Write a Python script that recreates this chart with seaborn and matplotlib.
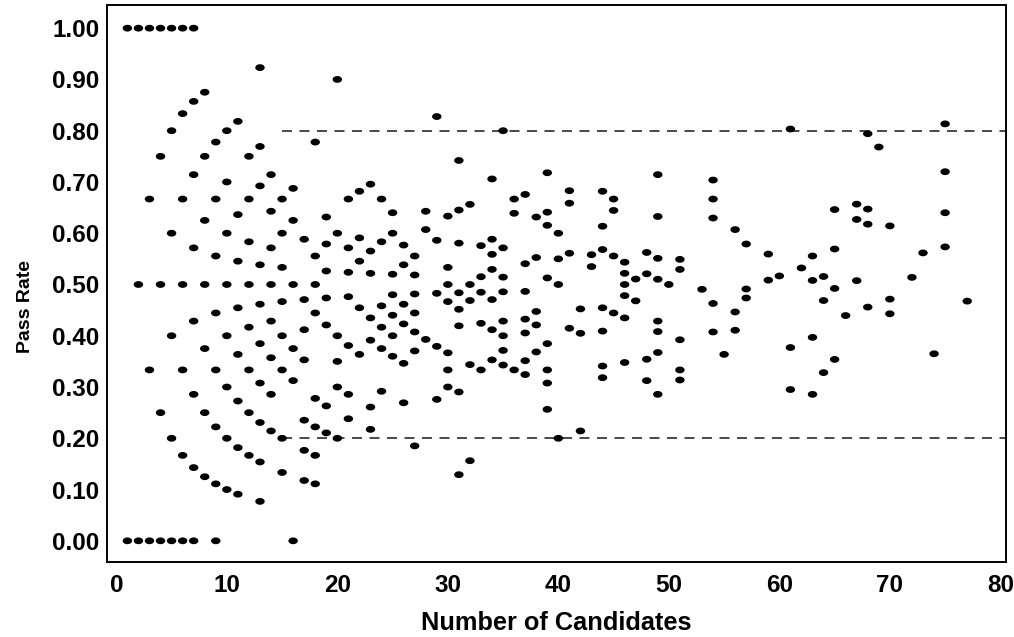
import numpy as np
import pandas as pd
import matplotlib
matplotlib.use("Agg")
import matplotlib.pyplot as plt
from matplotlib.path import Path
from matplotlib.markers import MarkerStyle
from matplotlib.ticker import FormatStrFormatter, MultipleLocator
import seaborn as sns

# Number of candidates sitting the exam at each centre
candidates = [
    1, 1,
    2, 2, 2,
    3, 3, 3, 3,
    4, 4, 4, 4, 4,
    5, 5, 5, 5, 5, 5,
    6, 6, 6, 6, 6, 6, 6,
    7, 7, 7, 7, 7, 7, 7, 7,
    8, 8, 8, 8, 8, 8, 8,
    9, 9, 9, 9, 9, 9, 9, 9,
    10, 10, 10, 10, 10, 10, 10, 10,
    11, 11, 11, 11, 11, 11, 11, 11,
    12, 12, 12, 12, 12, 12, 12, 12,
    13, 13, 13, 13, 13, 13, 13, 13, 13, 13,
    14, 14, 14, 14, 14, 14, 14, 14,
    15, 15, 15, 15, 15, 15, 15, 15,
    16, 16, 16, 16, 16, 16,
    17, 17, 17, 17, 17, 17, 17,
    18, 18, 18, 18, 18, 18, 18, 18,
    19, 19, 19, 19, 19, 19, 19,
    20, 20, 20, 20, 20, 20,
    21, 21, 21, 21, 21, 21, 21,
    22, 22, 22, 22, 22,
    23, 23, 23, 23, 23, 23, 23,
    24, 24, 24, 24, 24, 24,
    25, 25, 25, 25, 25, 25, 25,
    26, 26, 26, 26, 26, 26,
    27, 27, 27, 27, 27, 27, 27,
    28, 28, 28,
    29, 29, 29, 29, 29,
    30, 30, 30, 30, 30, 30, 30,
    31, 31, 31, 31, 31, 31, 31, 31,
    32, 32, 32, 32, 32,
    33, 33, 33, 33, 33,
    34, 34, 34, 34, 34, 34, 34,
    35, 35, 35, 35, 35, 35, 35, 35,
    36, 36, 36,
    37, 37, 37, 37, 37, 37, 37,
    38, 38, 38, 38, 38,
    39, 39, 39, 39, 39, 39, 39, 39,
    40, 40, 40, 40,
    41, 41, 41, 41,
    42, 42, 42,
    43, 43,
    44, 44, 44, 44, 44, 44, 44,
    45, 45, 45, 45,
    46, 46, 46, 46, 46, 46,
    47, 47,
    48, 48, 48, 48,
    49, 49, 49, 49, 49, 49, 49, 49,
    50,
    51, 51, 51, 51, 51,
    53,
    54, 54, 54, 54, 54,
    55,
    56, 56, 56,
    57, 57, 57,
    59, 59,
    60,
    61, 61, 61,
    62,
    63, 63, 63, 63,
    64, 64, 64,
    65, 65, 65, 65,
    66,
    67, 67, 67,
    68, 68, 68, 68,
    69,
    70, 70, 70,
    72,
    73,
    74,
    75, 75, 75, 75,
    77,
]

# Number of those candidates who passed
passed = [
    0, 1,
    0, 1, 2,
    0, 1, 2, 3,
    0, 1, 2, 3, 4,
    0, 1, 2, 3, 4, 5,
    0, 1, 2, 3, 4, 5, 6,
    0, 1, 2, 3, 4, 5, 6, 7,
    1, 2, 3, 4, 5, 6, 7,
    0, 1, 2, 3, 4, 5, 6, 7,
    1, 2, 3, 4, 5, 6, 7, 8,
    1, 2, 3, 4, 5, 6, 7, 9,
    2, 3, 4, 5, 6, 7, 8, 9,
    1, 2, 3, 4, 5, 6, 7, 9, 10, 12,
    3, 4, 5, 6, 7, 8, 9, 10,
    2, 3, 5, 6, 7, 8, 9, 10,
    0, 5, 6, 8, 10, 11,
    2, 3, 4, 6, 7, 8, 10,
    2, 3, 4, 5, 8, 9, 10, 14,
    4, 5, 8, 9, 10, 11, 12,
    4, 6, 7, 8, 12, 18,
    5, 6, 8, 10, 11, 12, 14,
    8, 10, 12, 13, 15,
    5, 6, 9, 10, 12, 13, 16,
    7, 9, 10, 11, 14, 16,
    9, 10, 11, 12, 13, 15, 16,
    7, 9, 11, 12, 14, 15,
    5, 10, 11, 12, 13, 14, 15,
    11, 17, 18,
    8, 11, 14, 17, 24,
    9, 10, 11, 14, 15, 16, 19,
    4, 9, 13, 14, 15, 18, 20, 23,
    5, 11, 15, 16, 21,
    11, 14, 16, 17, 19,
    12, 14, 16, 18, 19, 20, 24,
    12, 13, 14, 15, 17, 18, 20, 28,
    12, 23, 24,
    12, 13, 15, 16, 18, 20, 25,
    14, 16, 17, 21, 24,
    10, 12, 13, 15, 20, 24, 25, 28,
    8, 20, 22, 24,
    17, 23, 27, 28,
    9, 17, 19,
    23, 24,
    14, 15, 18, 20, 25, 27, 30,
    20, 25, 29, 30,
    16, 20, 22, 23, 24, 25,
    22, 24,
    15, 17, 25, 27,
    14, 18, 20, 21, 25, 27, 31, 35,
    25,
    16, 17, 20, 27, 28,
    26,
    22, 25, 34, 36, 38,
    20,
    23, 25, 34,
    27, 28, 33,
    30, 33,
    31,
    18, 23, 49,
    33,
    18, 25, 32, 35,
    21, 30, 33,
    23, 32, 37, 42,
    29,
    34, 42, 44,
    31, 42, 44, 54,
    53,
    31, 33, 43,
    37,
    41,
    27,
    43, 48, 54, 61,
    36,
]

# Reference bands for the pass rate
band_levels = [0.2, 0.8]
band_start = 15

x_ticks = [0, 10, 20, 30, 40, 50, 60, 70, 80]

df = pd.DataFrame({"Number of Candidates": candidates, "Passed": passed})
df["Pass Rate"] = df["Passed"] / df["Number of Candidates"]

sns.set_theme(style="white")
plt.rcParams["font.family"] = ["Liberation Sans", "DejaVu Sans"]
plt.rcParams["font.weight"] = "bold"
plt.rcParams["text.color"] = "black"
plt.rcParams["axes.labelcolor"] = "black"
plt.rcParams["xtick.color"] = "black"
plt.rcParams["ytick.color"] = "black"

fig = plt.figure(figsize=(10.14, 6.37), dpi=100)
ax = fig.add_axes([0.106, 0.118, 0.886, 0.874])

# slightly flattened dot marker
theta = np.linspace(0, 2 * np.pi, 41)
ellipse = Path(np.column_stack([np.cos(theta), 0.72 * np.sin(theta)]), closed=True)

sns.scatterplot(
    data=df, x="Number of Candidates", y="Pass Rate", ax=ax,
    marker=MarkerStyle(ellipse), s=46, color="black", linewidth=0,
    edgecolor="none", zorder=3,
)

for level in band_levels:
    ax.plot([band_start, 81], [level, level], color="#2a2a2a",
            linestyle=(0, (6, 4.5)), linewidth=1.2, zorder=2)

ax.set_xlim(-0.8, 80.5)
ax.set_ylim(-0.041, 1.045)
ax.set_xticks(x_ticks)
ax.yaxis.set_major_locator(MultipleLocator(0.1))
ax.yaxis.set_major_formatter(FormatStrFormatter("%.2f"))

ax.tick_params(axis="both", direction="in", length=6, width=1.3,
               color="black", labelcolor="black", labelsize=17.5)
ax.tick_params(axis="x", pad=9)
ax.tick_params(axis="y", pad=6)
for lab in ax.get_xticklabels() + ax.get_yticklabels():
    lab.set_fontweight("bold")

for spine in ax.spines.values():
    spine.set_visible(True)
    spine.set_color("black")
    spine.set_linewidth(1.4)

ax.set_xlabel("Number of Candidates", fontsize=18.3, fontweight="bold",
              labelpad=10, color="black")
ax.set_ylabel("Pass Rate", fontsize=14, fontweight="bold", color="black")
ax.yaxis.set_label_coords(-0.082, 0.458)

fig.savefig("out.png", dpi=100)
